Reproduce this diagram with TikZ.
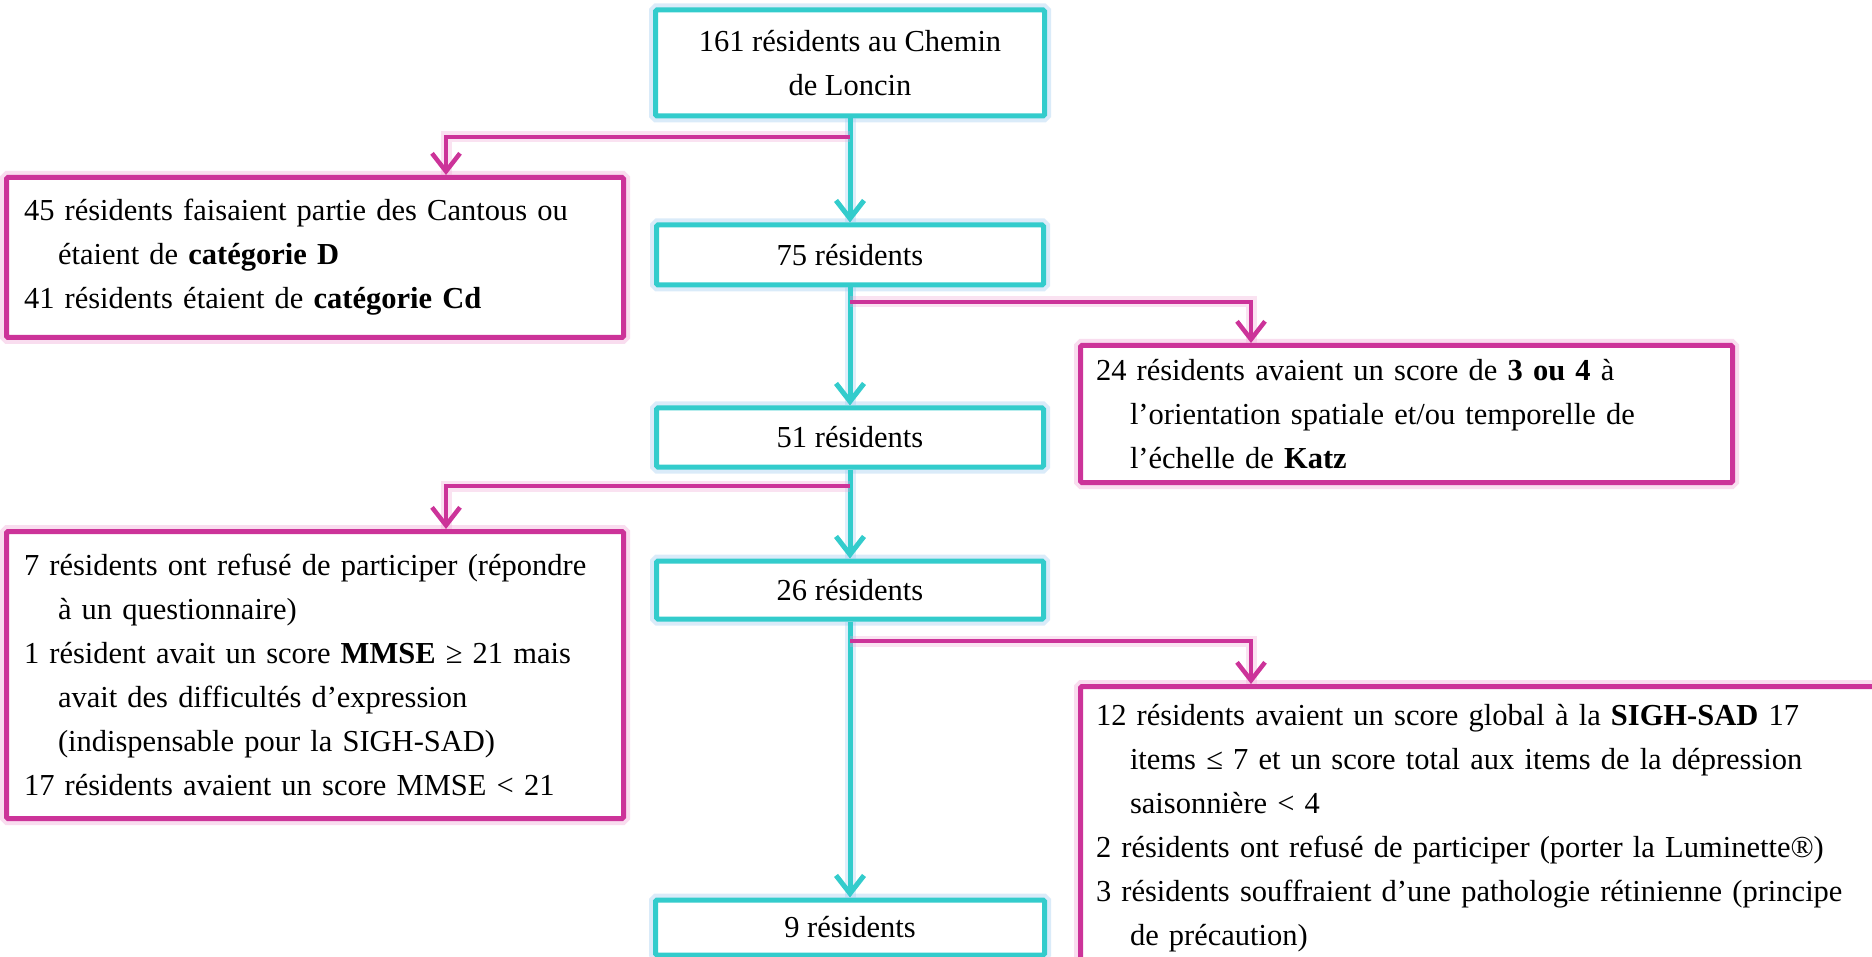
\documentclass[tikz,border=0pt]{standalone}
\usepackage{fontspec}
\setmainfont{Liberation Serif}
\usetikzlibrary{arrows.meta}
\definecolor{cy}{RGB}{51,204,204}
\definecolor{mg}{RGB}{204,51,153}
\definecolor{cyglow}{RGB}{150,200,240}
\definecolor{mgglow}{RGB}{240,160,210}
\tikzset{
  txt/.style={font=\fontsize{30.5}{44}\selectfont},
  cbox/.style={txt, draw=cy, line width=5pt, fill=white, rounded corners=1.5pt, align=center, inner sep=0pt,
    preaction={draw=cyglow, line width=13pt, opacity=0.35}},
  mbox/.style={txt, draw=mg, line width=5pt, fill=white, rounded corners=1.5pt, align=left, inner ysep=0pt,
    preaction={draw=mgglow, line width=13pt, opacity=0.35}},
  cline/.style={draw=cy, line width=5pt, -{Straight Barb[length=18pt,width=28pt]},
    preaction={draw=cyglow, line width=11pt, opacity=0.3, -}},
  mline/.style={draw=mg, line width=4.5pt, -{Straight Barb[length=18pt,width=28pt]},
    preaction={draw=mgglow, line width=11pt, opacity=0.3, -}},
}
\newcommand{\ind}{\hspace*{34pt}}
\begin{document}
\begin{tikzpicture}[x=1pt,y=-1pt]
\useasboundingbox (0,0) rectangle (1872,957);
\clip (0,0) rectangle (1872,957);
\fill[white] (0,0) rectangle (1872,957);

% main column
\node[cbox, minimum width=389pt, minimum height=106pt] (top) at (850,63) {161 résidents au Chemin\\de Loncin};
\node[cbox, minimum width=387pt, minimum height=60pt] (b75) at (850,255) {75 résidents};
\node[cbox, minimum width=387pt, minimum height=59pt] (b51) at (850,437.5) {51 résidents};
\node[cbox, minimum width=387pt, minimum height=58pt] (b26) at (850,590) {26 résidents};
\node[cbox, minimum width=389pt, minimum height=55pt] (b9) at (850,927.5) {9 résidents};

% exclusion boxes
\node[mbox, inner xsep=17.5pt, text width=582pt, minimum height=160pt] (left1) at (315,257.5)
  {45 résidents faisaient partie des Cantous ou\\\ind étaient de \textbf{catégorie D}\\41 résidents étaient de \textbf{catégorie Cd}};
\node[mbox, inner xsep=15.5pt, text width=621pt, minimum height=137pt] (right1) at (1406.5,414)
  {24 résidents avaient un score de \textbf{3 ou 4} à\\\ind l’orientation spatiale et/ou temporelle de\\\ind l’échelle de \textbf{Katz}};
\node[mbox, inner xsep=17.5pt, text width=582pt, minimum height=287pt] (left2) at (315,675)
  {7 résidents ont refusé de participer (répondre\\\ind à un questionnaire)\\1 résident avait un score \textbf{MMSE} ≥ 21 mais\\\ind avait des difficultés d’expression\\\ind (indispensable pour la SIGH-SAD)\\17 résidents avaient un score MMSE < 21};
\node[mbox, inner xsep=15.5pt, text width=778pt, minimum height=283pt] (right2) at (1485,828)
  {12 résidents avaient un score global à la \textbf{SIGH-SAD} 17\\\ind items ≤ 7 et un score total aux items de la dépression\\\ind saisonnière < 4\\2 résidents ont refusé de participer (porter la Luminette®)\\3 résidents souffraient d’une pathologie rétinienne (principe\\\ind de précaution)};

% main arrows
\draw[cline] (top.south) -- (b75.north);
\draw[cline] (b75.south) -- (b51.north);
\draw[cline] (b51.south) -- (b26.north);
\draw[cline] (b26.south) -- (b9.north);

% branch arrows
\coordinate (m1) at (850,137);
\coordinate (m2) at (850,302);
\coordinate (m3) at (850,486);
\coordinate (m4) at (850,641);
\draw[mline] (m1) -| (446,0 |- left1.north);
\draw[mline] (m2) -| (1251,0 |- right1.north);
\draw[mline] (m3) -| (446,0 |- left2.north);
\draw[mline] (m4) -| (1251,0 |- right2.north);
\end{tikzpicture}
\end{document}
